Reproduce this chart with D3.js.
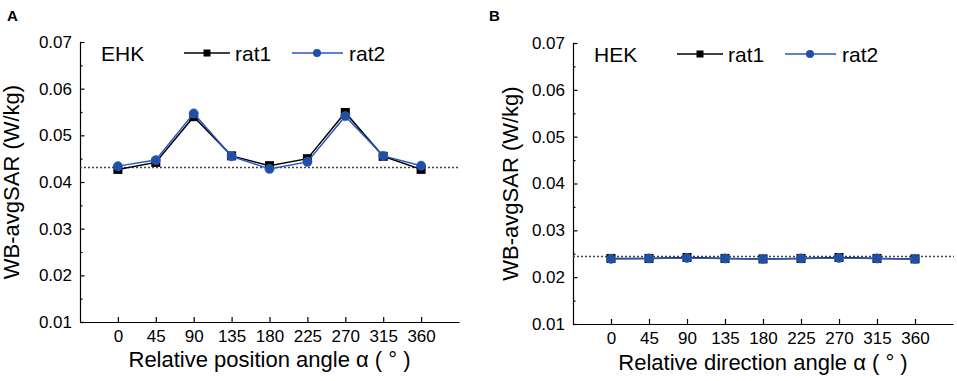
<!DOCTYPE html>
<html lang="en">
<head>
  <meta charset="UTF-8">
  <title>WB-avgSAR vs angle</title>
  <style>
    body { margin: 0; background: #fff; }
    svg { display: block; font-family: Arial, 'Liberation Sans', sans-serif; }
    .axis path, .axis line { stroke: #000; stroke-width: 1.2px; }
    .axis text { font-size: 17px; fill: #000; }
  </style>
</head>
<body>
  <script src="https://d3js.org/d3.v7.min.js"></script>
  <svg id="chart" width="957" height="381"></svg>
  <script>
    // data
    const angles = [0, 45, 90, 135, 180, 225, 270, 315, 360]
    const yTicks = [0.01, 0.02, 0.03, 0.04, 0.05, 0.06, 0.07]
    const yMinor = [0.015, 0.025, 0.035, 0.045, 0.055, 0.065]

    const ehkRat1 = [0.0427, 0.0442, 0.0540, 0.0456, 0.0435, 0.0450, 0.0549, 0.0455, 0.0427]
    const ehkRat2 = [0.0434, 0.0447, 0.0547, 0.0455, 0.0428, 0.0443, 0.0541, 0.0456, 0.0435]
    const ehkRef = 0.0431

    const hekRat1 = [0.0240, 0.0240, 0.0242, 0.0240, 0.0239, 0.0240, 0.0242, 0.0240, 0.0239]
    const hekRat2 = [0.0239, 0.0240, 0.0241, 0.0240, 0.0239, 0.0240, 0.0241, 0.0240, 0.0239]
    const hekRef = 0.0244

    const blue = '#1f4fa6'
    const blueLine = '#2b55c0'

    let svg = d3.select('#chart')

    function panel (opt) {
      let x = d3.scaleLinear().domain([-45, 405]).range([opt.left, opt.right])
      let y = d3.scaleLinear().domain([0.01, 0.07]).range([opt.bottom, opt.top])
      let g = svg.append('g')

      // panel letter
      g.append('text')
        .attr('x', opt.letterX).attr('y', 21)
        .attr('font-size', 15).attr('font-weight', 'bold')
        .text(opt.letter)

      // axes
      g.append('g').attr('class', 'axis')
        .attr('transform', `translate(${opt.left},0)`)
        .call(d3.axisLeft(y).tickValues(yMinor).tickSize(-2.5).tickSizeOuter(0).tickFormat(''))
        .call(s => s.select('.domain').remove())
      g.append('g').attr('class', 'axis')
        .attr('transform', `translate(${opt.left},0)`)
        .call(d3.axisLeft(y).tickValues(yTicks).tickSize(-4.5).tickSizeOuter(0).tickPadding(8).tickFormat(d3.format('.2f')))
      g.append('g').attr('class', 'axis')
        .attr('transform', `translate(0,${opt.bottom})`)
        .call(d3.axisBottom(x).tickValues(angles).tickSize(-5).tickSizeOuter(0).tickPadding(8))
      g.selectAll('.axis text').attr('font-family', null)

      // axis titles
      g.append('text')
        .attr('transform', `translate(${opt.yTitleX},${(opt.top + opt.bottom) / 2}) rotate(-90)`)
        .attr('text-anchor', 'middle').attr('font-size', 22)
        .text('WB-avgSAR (W/kg)')
      g.append('text')
        .attr('x', (opt.left + opt.right) / 2).attr('y', opt.xTitleY)
        .attr('text-anchor', 'middle').attr('font-size', 22)
        .text(opt.xTitle)

      // reference dotted line
      g.append('line')
        .attr('x1', opt.left).attr('x2', opt.right + 1)
        .attr('y1', y(opt.ref)).attr('y2', y(opt.ref))
        .attr('stroke', '#444').attr('stroke-width', 1.5)
        .attr('stroke-dasharray', '2,2')

      let line = d3.line().x((d, i) => x(angles[i])).y(d => y(d))

      // rat1
      g.append('path').datum(opt.rat1)
        .attr('d', line).attr('fill', 'none')
        .attr('stroke', '#000').attr('stroke-width', 1.5)
      g.selectAll('.sq').data(opt.rat1).enter().append('rect')
        .attr('class', 'sq')
        .attr('x', (d, i) => x(angles[i]) - 4.5).attr('y', d => y(d) - 4.5)
        .attr('width', 9).attr('height', 9)
        .attr('fill', '#000')

      // rat2
      g.append('path').datum(opt.rat2)
        .attr('d', line).attr('fill', 'none')
        .attr('stroke', blueLine).attr('stroke-width', 1.5)
      g.selectAll('.dot').data(opt.rat2).enter().append('circle')
        .attr('class', 'dot')
        .attr('cx', (d, i) => x(angles[i])).attr('cy', d => y(d))
        .attr('r', 4.6)
        .attr('fill', blue).attr('stroke', '#3a66c0').attr('stroke-width', 0.6)

      // legend
      let ly = opt.legendY
      g.append('text')
        .attr('x', opt.tagX).attr('y', ly + 8).attr('font-size', 21)
        .text(opt.tag)
      g.append('line')
        .attr('x1', opt.tagX + 83).attr('x2', opt.tagX + 129)
        .attr('y1', ly).attr('y2', ly)
        .attr('stroke', '#000').attr('stroke-width', 1.5)
      g.append('rect')
        .attr('x', opt.tagX + 106 - 3.5).attr('y', ly - 3.5)
        .attr('width', 7).attr('height', 7).attr('fill', '#000')
      g.append('text')
        .attr('x', opt.tagX + 134).attr('y', ly + 8).attr('font-size', 21)
        .text('rat1')
      g.append('line')
        .attr('x1', opt.tagX + 191).attr('x2', opt.tagX + 242)
        .attr('y1', ly).attr('y2', ly)
        .attr('stroke', blueLine).attr('stroke-width', 1.5)
      g.append('circle')
        .attr('cx', opt.tagX + 216).attr('cy', ly).attr('r', 4)
        .attr('fill', blue)
      g.append('text')
        .attr('x', opt.tagX + 248).attr('y', ly + 8).attr('font-size', 21)
        .text('rat2')
    }

    panel({
      letter: 'A', letterX: 7,
      left: 80, right: 459, top: 42, bottom: 322,
      yTitleX: 19, xTitleY: 367,
      xTitle: 'Relative position angle \u03b1 ( \u00b0 )',
      ref: ehkRef, rat1: ehkRat1, rat2: ehkRat2,
      tag: 'EHK', tagX: 101, legendY: 53
    })

    panel({
      letter: 'B', letterX: 489,
      left: 573, right: 953, top: 43, bottom: 324,
      yTitleX: 518, xTitleY: 370,
      xTitle: 'Relative direction angle \u03b1 ( \u00b0 )',
      ref: hekRef, rat1: hekRat1, rat2: hekRat2,
      tag: 'HEK', tagX: 594, legendY: 54
    })
  </script>
</body>
</html>
